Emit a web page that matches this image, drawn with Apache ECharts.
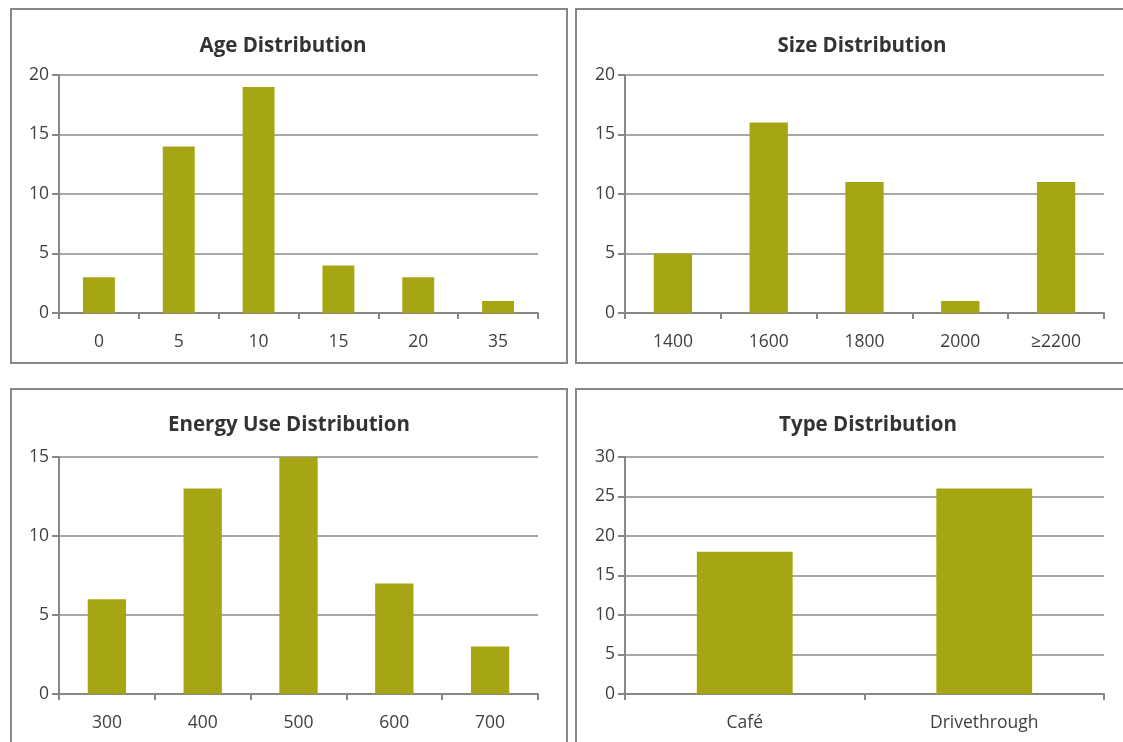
<!DOCTYPE html>
<html>
<head>
<meta charset="utf-8">
<script src="https://cdn.jsdelivr.net/npm/echarts@6/dist/echarts.min.js"></script>
<style>
  html, body { margin: 0; padding: 0; background: #ffffff; }
  #chart { width: 1123px; height: 742px; }
</style>
</head>
<body>
<div id="chart"></div>
<script>
// Age distribution
const ageCategories = ['0', '5', '10', '15', '20', '35'];
const ageCounts = [3, 14, 19, 4, 3, 1];

// Size distribution
const sizeCategories = ['1400', '1600', '1800', '2000', '≥2200'];
const sizeCounts = [5, 16, 11, 1, 11];

// Energy use distribution
const energyCategories = ['300', '400', '500', '600', '700'];
const energyCounts = [6, 13, 15, 7, 3];

// Type distribution
const typeCategories = ['Café', 'Drivethrough'];
const typeCounts = [18, 26];

// Panel titles and value-axis ranges
const panelTitles = ['Age Distribution', 'Size Distribution', 'Energy Use Distribution', 'Type Distribution'];
const yMax = [20, 20, 15, 30];
const yStep = 5;

const FONT = '"Open Sans", "Noto Sans", sans-serif';
const BAR = '#a6a614';
const AXIS = '#878787';
const GRID = '#a8a8a8';
const TEXT = '#3f3f3f';

const grids = [
  { left: 59, right: 585, top: 75, bottom: 429 },
  { left: 625, right: 19, top: 75, bottom: 429 },
  { left: 59, right: 585, top: 457, bottom: 48 },
  { left: 625, right: 19, top: 457, bottom: 48 }
];

const cats = [ageCategories, sizeCategories, energyCategories, typeCategories];
const vals = [ageCounts, sizeCounts, energyCounts, typeCounts];

const titleCenters = [[283, 36], [862, 36], [289, 415], [868, 415]];

const chart = echarts.init(document.getElementById('chart'), null, { renderer: 'canvas' });

chart.setOption({
  backgroundColor: '#ffffff',
  animation: false,
  title: panelTitles.map((t, i) => ({
    text: t,
    left: titleCenters[i][0],
    top: titleCenters[i][1],
    textAlign: 'center',
    padding: 0,
    textStyle: { fontFamily: FONT, fontWeight: 'bold', fontSize: 20.5, color: '#333333' }
  })),
  // Panel frames
  graphic: [
    { type: 'rect', shape: { x: 11, y: 9, width: 556, height: 354 }, style: { fill: 'none', stroke: AXIS, lineWidth: 2 }, z: -1 },
    { type: 'rect', shape: { x: 576, y: 9, width: 560, height: 354 }, style: { fill: 'none', stroke: AXIS, lineWidth: 2 }, z: -1 },
    { type: 'rect', shape: { x: 11, y: 389, width: 556, height: 370 }, style: { fill: 'none', stroke: AXIS, lineWidth: 2 }, z: -1 },
    { type: 'rect', shape: { x: 576, y: 389, width: 560, height: 370 }, style: { fill: 'none', stroke: AXIS, lineWidth: 2 }, z: -1 }
  ],
  grid: grids,
  xAxis: cats.map((c, i) => ({
    type: 'category',
    gridIndex: i,
    data: c,
    boundaryGap: true,
    axisLine: { show: true, lineStyle: { color: AXIS, width: 2 } },
    axisTick: { show: true, length: 6, lineStyle: { color: AXIS, width: 2 } },
    axisLabel: { fontFamily: FONT, fontSize: 17.5, color: TEXT, margin: 20 },
    splitLine: { show: false }
  })),
  yAxis: yMax.map((m, i) => ({
    type: 'value',
    gridIndex: i,
    min: 0,
    max: m,
    interval: yStep,
    axisLine: { show: true, lineStyle: { color: AXIS, width: 2 } },
    axisTick: { show: true, length: 7, lineStyle: { color: AXIS, width: 2 } },
    axisLabel: { fontFamily: FONT, fontSize: 17.5, color: TEXT, margin: 10 },
    splitLine: { show: true, lineStyle: { color: GRID, width: 2 } }
  })),
  series: vals.map((v, i) => ({
    type: 'bar',
    xAxisIndex: i,
    yAxisIndex: i,
    data: v,
    barWidth: '40%',
    itemStyle: { color: BAR },
    z: 3
  }))
});
</script>
</body>
</html>
